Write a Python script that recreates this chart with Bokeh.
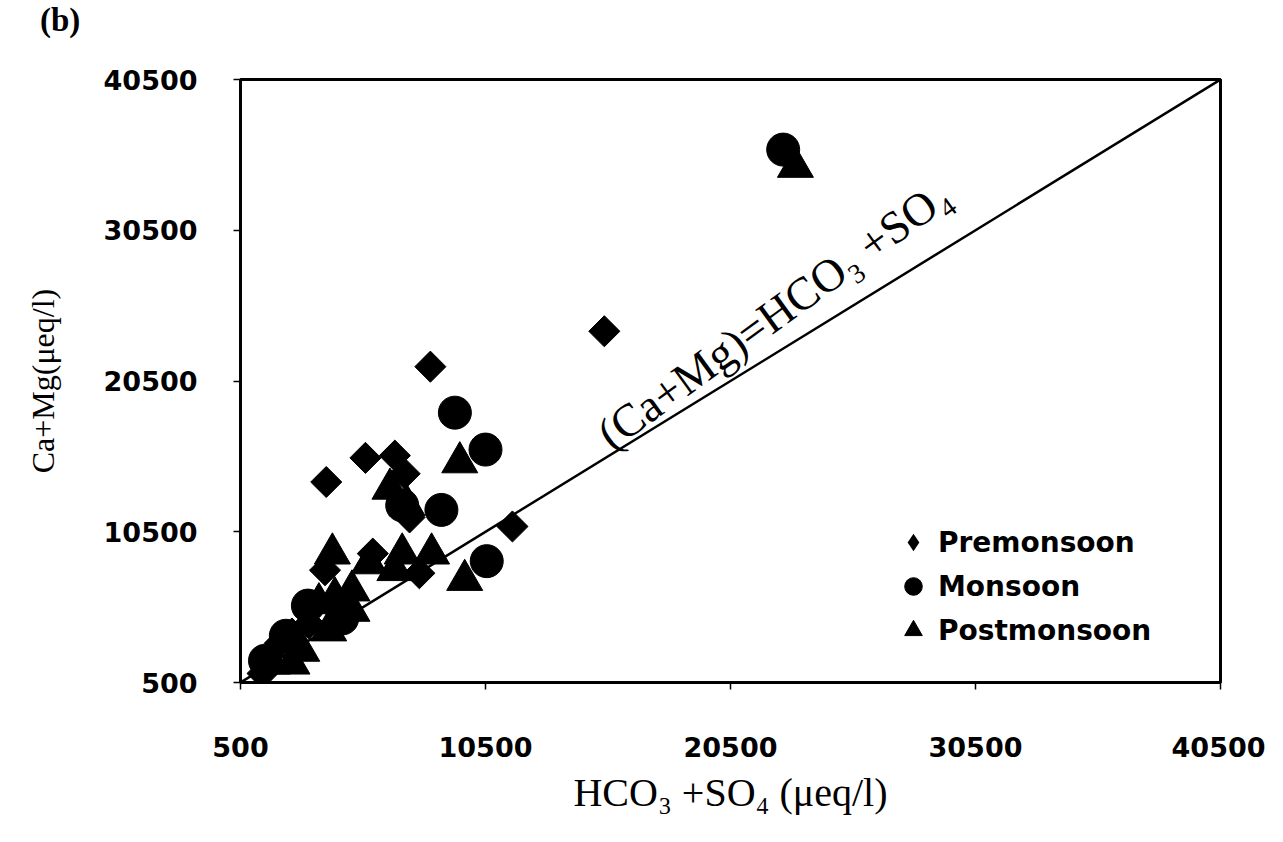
import math
from bokeh.plotting import figure
from bokeh.layouts import column
from bokeh.models import Range1d, FixedTicker, Label, Legend, LegendItem, Div
from bokeh.embed import file_html
from bokeh.resources import INLINE

# ---- data ----
ticks = [500, 10500, 20500, 30500, 40500]

pre_x = [15350, 8250, 5600, 4000, 6800, 11600, 7200, 7400, 5900, 7800, 3950, 3300, 2600, 2100, 1400]
pre_y = [23800, 21450, 15400, 13800, 15550, 10850, 14350, 11450, 9050, 7750, 7950, 4400, 3750, 3100, 1100]

mon_x = [22650, 9250, 10500, 8700, 10550, 7100, 4650, 2350, 3250, 1500]
mon_y = [35850, 18400, 15950, 11950, 8550, 12250, 4750, 3600, 5600, 1950]

post_x = [23150, 9450, 9650, 7100, 8300, 6800, 5750, 4250, 5050, 4350, 3700, 5050, 4100, 3000, 1800, 2600, 6600, 7300]
post_y = [34700, 15100, 7300, 9050, 9050, 7950, 8400, 9050, 6600, 6150, 5750, 5250, 3950, 2600, 1750, 1750, 13350, 12250]

line_x = [500, 40500]
line_y = [500, 40500]

W = 1265
TAG_H = 40
TOP = 50          # where the figure starts below the tag row
H = 776

tag = Div(text="(b)", width=W, height=TAG_H,
          styles={"font-family": "'Liberation Serif', serif", "font-weight": "bold",
                  "font-size": "33px", "line-height": "30px", "padding-left": "35px",
                  "color": "black", "background-color": "white"})

p = figure(width=W, height=H, output_backend="svg", toolbar_location=None,
           x_range=Range1d(500, 40500), y_range=Range1d(500, 40500),
           min_border_left=240, min_border_right=W - 1220,
           min_border_top=79 - TOP, min_border_bottom=TOP + H - 682)
p.xgrid.visible = False
p.ygrid.visible = False
p.outline_line_color = "black"
p.outline_line_width = 3
p.background_fill_color = "white"
p.border_fill_color = "white"

for ax in (p.xaxis[0], p.yaxis[0]):
    ax.ticker = FixedTicker(ticks=ticks)
    ax.minor_tick_line_color = None
    ax.major_tick_in = 0
    ax.major_tick_out = 7
    ax.major_tick_line_color = "black"
    ax.major_tick_line_width = 1.5
    ax.axis_line_color = "black"
    ax.axis_line_width = 2
    ax.major_label_text_font = "DejaVu Sans"
    ax.major_label_text_font_style = "bold"
    ax.major_label_text_font_size = "27px"
    ax.major_label_text_color = "black"
    ax.axis_label_text_font = "Liberation Serif"
    ax.axis_label_text_font_style = "normal"
    ax.axis_label_text_color = "black"

p.xaxis.major_label_standoff = 47
p.yaxis.major_label_standoff = 36
p.xaxis.axis_label = "HCO\u2083 +SO\u2084 (\u03bceq/l)"
p.yaxis.axis_label = "Ca+Mg(\u03bceq/l)"
p.xaxis.axis_label_text_font_size = "40px"
p.yaxis.axis_label_text_font_size = "32px"
p.xaxis.axis_label_standoff = 10
p.yaxis.axis_label_standoff = 40

# 1:1 line
p.line(line_x, line_y, line_color="black", line_width=2.5)

r_pre = p.scatter(pre_x, pre_y, marker="square", size=22, angle=math.pi / 4,
                  fill_color="black", line_color="black")
r_mon = p.scatter(mon_x, mon_y, marker="circle", size=33,
                  fill_color="black", line_color="black")
r_post = p.scatter(post_x, post_y, marker="triangle", size=36,
                   fill_color="black", line_color="black")
# legend proxy for the diamond symbol (draws nothing on the plot: size 0)
r_pre_key = p.scatter(pre_x, pre_y, marker="diamond", size=0,
                      fill_color="black", line_color=None)

legend = Legend(items=[LegendItem(label="Premonsoon", renderers=[r_pre_key]),
                       LegendItem(label="Monsoon", renderers=[r_mon]),
                       LegendItem(label="Postmonsoon", renderers=[r_post])],
                location=(648, 30), orientation="vertical",
                background_fill_alpha=0, border_line_color=None,
                label_text_font="DejaVu Sans", label_text_font_style="bold",
                label_text_font_size="28px", label_text_color="black",
                glyph_width=50, glyph_height=44, label_height=44,
                spacing=0, padding=0, label_standoff=-3, margin=0)
p.add_layout(legend, "center")

# line label
p.add_layout(Label(x=15900, y=15300, text="(Ca+Mg)=HCO\u2083 +SO\u2084",
                   angle=36, angle_units="deg",
                   text_font="Liberation Serif", text_font_size="46px",
                   text_color="black", text_baseline="bottom", text_align="left"))

layout = column(tag, p, spacing=0)
open("out.html", "w").write(file_html(layout, INLINE))
